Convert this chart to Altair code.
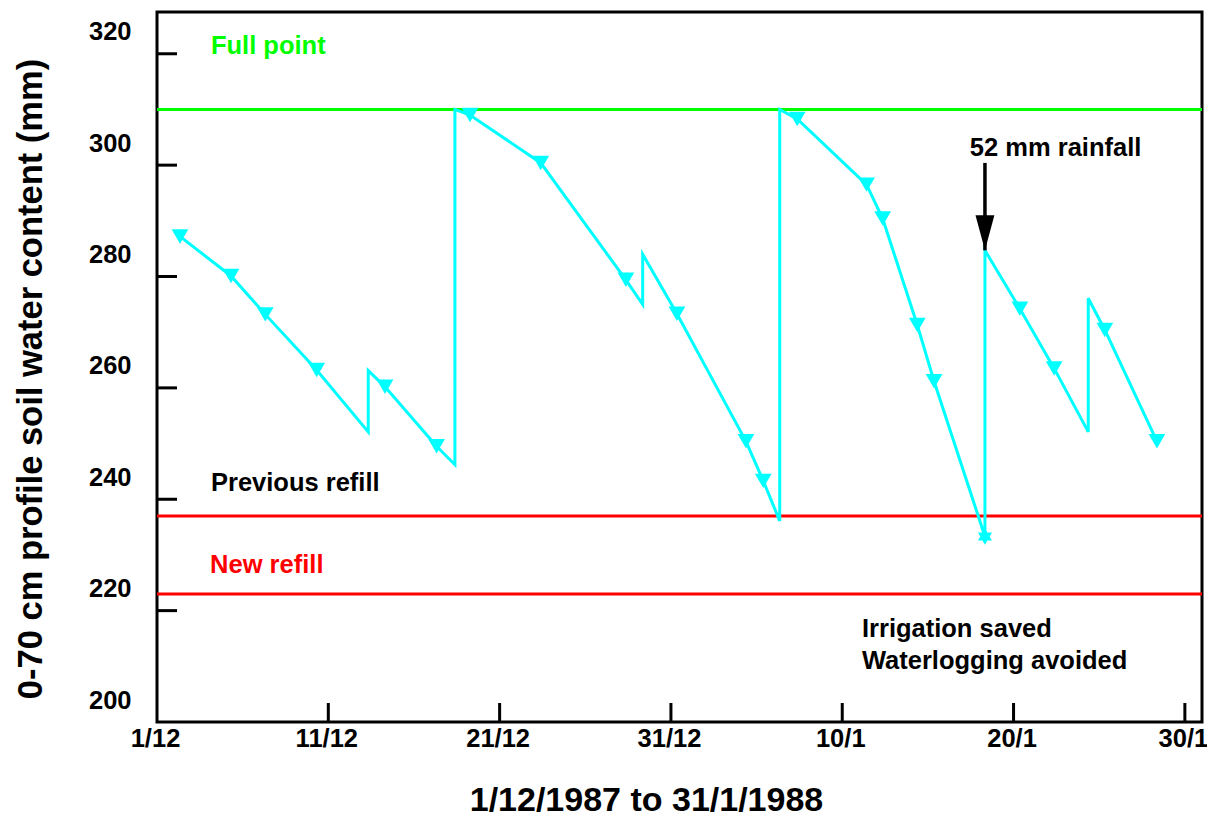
import json
import altair as alt
import pandas as pd

# ---- data ----
# days after 1/12/1987 for every vertex of the soil-water trace
days = [1.34, 4.32, 6.32, 9.32, 12.33, 12.33, 13.31, 16.32, 17.39, 17.39, 18.27,
        22.40, 27.37, 28.35, 28.35, 30.35, 34.38, 35.39, 36.35, 36.35, 37.37,
        41.42, 42.36, 44.38, 45.36, 48.33, 48.33, 50.37, 52.37, 54.36, 54.36,
        55.33, 58.37]
# 0-70 cm profile soil water content (mm)
swc = [287.2, 280.1, 273.2, 263.2, 252.1, 263.1, 260.2, 249.5, 246.2, 310.0, 309.0,
       300.4, 279.4, 275.0, 284.0, 273.3, 250.4, 243.3, 236.1, 310.0, 308.3,
       296.5, 290.4, 271.3, 261.2, 233.3, 284.7, 274.2, 263.5, 252.1, 276.1,
       270.4, 250.4]
# marker kind for each vertex: tri = measurement, c = corner (irrigation / rain jump)
kinds = ["tri", "tri", "tri", "tri", "c", "c", "tri", "tri", "c", "c", "tri",
         "tri", "tri", "c", "c", "tri", "tri", "tri", "c", "c", "tri",
         "tri", "tri", "tri", "tri", "star", "c", "tri", "tri", "c", "c",
         "tri", "tri"]

full_point = 310
previous_refill = 237
new_refill = 223

xtick_values = [0, 10, 20, 30, 40, 50, 60]
xtick_labels = ["1/12", "11/12", "21/12", "31/12", "10/1", "20/1", "30/1"]
ytick_values = [200, 220, 240, 260, 280, 300, 320]

# rainfall arrow (day, top of shaft, tip)
arrow_day = [48.33]
arrow_top = [300.4]
arrow_tip = [284.7]

ann_text = ["Full point", "Previous refill", "New refill", "52 mm rainfall",
            "Irrigation saved", "Waterlogging avoided"]
ann_day = [3.15, 3.15, 3.10, 47.45, 41.15, 41.15]
ann_swc = [321.4, 242.9, 228.2, 303.1, 216.7, 211.0]
ann_color = ["#00ff00", "#000000", "#ff0000", "#000000", "#000000", "#000000"]

# ---- layout ----
W, H = 1045, 710
XDOM = [0, 61]
YDOM = [200, 327.5]
FONT = "Liberation Sans"

trace = pd.DataFrame({"day": days, "swc": swc, "kind": kinds, "i": range(len(days))})
levels = pd.DataFrame({"swc": [full_point, previous_refill, new_refill],
                       "col": ["#00ff00", "#ff0000", "#ff0000"]})
ann = pd.DataFrame({"day": ann_day, "swc": ann_swc, "text": ann_text, "col": ann_color})
arrow = pd.DataFrame({"day": arrow_day, "swc": arrow_tip, "top": arrow_top})
yt = pd.DataFrame({"swc": [v for v in ytick_values if v > YDOM[0]]})
xt = pd.DataFrame({"day": [v for v in xtick_values if v > XDOM[0]]})

xs = alt.Scale(domain=XDOM, nice=False, zero=False)
ys = alt.Scale(domain=YDOM, nice=False, zero=False)

label_expr = json.dumps(xtick_labels) + "[round(datum.value/10)]"

XAX = alt.Axis(
    values=xtick_values, labelExpr=label_expr, ticks=False, domain=False, grid=False,
    labelFont=FONT, labelFontSize=25.5, labelFontWeight="bold", labelColor="black",
    labelPadding=4, labelBaseline="top", labelOffset=-2, labelFlush=False,
    labelOverlap=False,
    title="1/12/1987 to 31/1/1988", titleFont=FONT, titleFontSize=34,
    titleFontWeight="bold", titleColor="black", titleX=489, titleY=88,
    titleAlign="center", titleBaseline="alphabetic", titleAngle=0)
YAX = alt.Axis(
    values=ytick_values, format="d", ticks=False, domain=False, grid=False,
    labelFont=FONT, labelFontSize=25.5, labelFontWeight="bold", labelColor="black",
    labelPadding=26, labelBaseline="middle", labelOffset=-22, labelFlush=False,
    labelOverlap=False,
    title="0-70 cm profile soil water content (mm)", titleFont=FONT, titleFontSize=34.5,
    titleFontWeight="bold", titleColor="black", titleX=-116, titleY=366.5,
    titleAlign="center", titleBaseline="alphabetic", titleAngle=270)

X = alt.X("day:Q", scale=xs, axis=XAX)
Y = alt.Y("swc:Q", scale=ys, axis=YAX)

level_lines = alt.Chart(levels).mark_rule(strokeWidth=3).encode(
    x=alt.value(0), x2=alt.value(W), y=Y, color=alt.Color("col:N", scale=None))

line = alt.Chart(trace).mark_line(color="#00ffff", strokeWidth=3, strokeJoin="miter").encode(
    x=X, y=Y, order="i:Q")

tris = alt.Chart(trace).transform_filter(alt.datum.kind == "tri").mark_point(
    shape="triangle-down", filled=True, color="#00ffff", size=280, opacity=1).encode(x=X, y=Y)

star = alt.Chart(trace).transform_filter(alt.datum.kind == "star").mark_point(
    shape="M0,-1L0.866,0.5L-0.866,0.5Z M0,1L-0.866,-0.5L0.866,-0.5Z",
    filled=True, color="#00ffff", size=260, opacity=1).encode(x=X, y=Y)

shaft = alt.Chart(arrow).mark_rule(color="black", strokeWidth=3.5).encode(
    x=X, y=Y, y2="top:Q")
head = alt.Chart(arrow).mark_point(
    shape="M-0.54,-2L0.54,-2L0,0Z", filled=True, color="black", size=1225, opacity=1).encode(
    x=X, y=Y)

ytick_marks = alt.Chart(yt).mark_rule(color="black", strokeWidth=3).encode(
    y=Y, x=alt.value(0), x2=alt.value(20))
xtick_marks = alt.Chart(xt).mark_rule(color="black", strokeWidth=3).encode(
    x=X, y=alt.value(H), y2=alt.value(H - 19))

texts = alt.Chart(ann).mark_text(align="left", baseline="middle", font=FONT,
                                 fontSize=25.5, fontWeight="bold").encode(
    x=X, y=Y, text="text:N", color=alt.Color("col:N", scale=None))

chart = alt.layer(level_lines, line, tris, star, shaft, head, ytick_marks, xtick_marks, texts).properties(
    width=W, height=H,
    autosize=alt.AutoSizeParams(type="none"),
    padding={"left": 149, "top": 4, "right": 5, "bottom": 96},
).configure(background="white").configure_view(stroke="black", strokeWidth=3)

chart.save("out.html", embed_options={"renderer": "svg", "actions": False})
